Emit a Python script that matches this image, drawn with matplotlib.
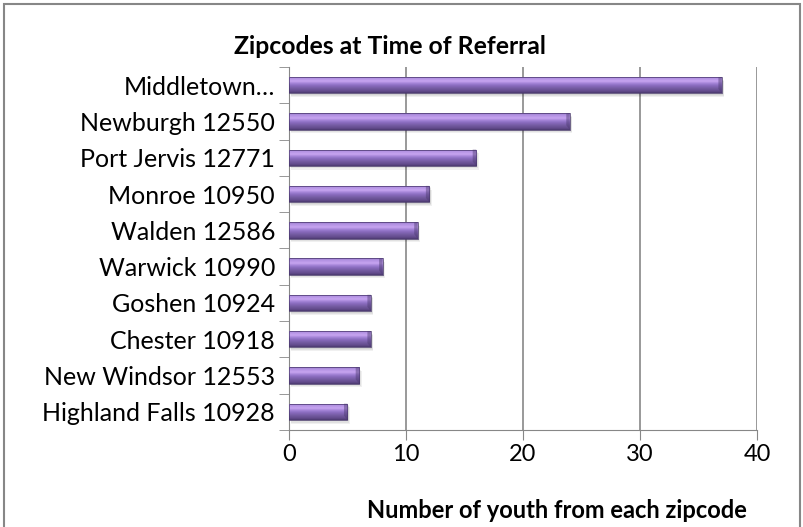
import numpy as np
import matplotlib.pyplot as plt
from matplotlib.colors import LinearSegmentedColormap
from matplotlib.patches import Rectangle, Polygon

zipcodes = ["Middletown\u2026", "Newburgh 12550", "Port Jervis 12771", "Monroe 10950",
            "Walden 12586", "Warwick 10990", "Goshen 10924", "Chester 10918",
            "New Windsor 12553", "Highland Falls 10928"]
youth = [37, 24, 16, 12, 11, 8, 7, 7, 6, 5]
xticks = [0, 10, 20, 30, 40]

plt.rcParams["font.family"] = ["Lato", "DejaVu Sans"]

fig = plt.figure(figsize=(8.04, 5.27), dpi=100)
ax = fig.add_axes([289 / 804, 1 - 430 / 527, (757 - 289) / 804, (430 - 67) / 527])

# purple bevelled-bar shading, top to bottom
shade = LinearSegmentedColormap.from_list(
    "bar", [(0.0, "#9a7dcc"), (0.12, "#b391e2"), (0.3, "#c7a5f1"), (0.42, "#a585d8"),
            (0.55, "#8b6dc0"), (0.75, "#72599f"), (0.9, "#624b8c"), (1.0, "#4b396f")])
grad = np.linspace(0, 1, 64).reshape(-1, 1)

h = 0.45
cap = 0.3
ypos = np.arange(len(zipcodes))
for y, v in zip(ypos, youth):
    # soft shadow under the bar
    for k, a in enumerate([0.06, 0.06, 0.06]):
        ax.add_patch(Rectangle((0.1 + 0.05 * k, y - h / 2 + 0.04 + 0.03 * k), v, h,
                               color="#000000", alpha=a, lw=0, zorder=2))
    bar = ax.barh(y, v, height=h, color="none", edgecolor="#46356a",
                  lw=0.5, zorder=4)[0]
    im = ax.imshow(grad, cmap=shade, extent=(0, v, y + h / 2, y - h / 2),
                   aspect="auto", zorder=3, interpolation="bilinear")
    im.set_clip_path(bar)
    # bevelled end cap
    ax.add_patch(Polygon([(v - cap, y - h / 2), (v, y - h / 2), (v, y + h / 2),
                          (v - cap, y + h / 2 - 0.12), (v - cap, y - h / 2 + 0.1)],
                         closed=True, color="#4b396f", alpha=0.45, lw=0, zorder=3.5))

ax.set_xlim(0, 40)
ax.set_ylim(len(zipcodes) - 0.5, -0.5)
ax.set_xticks(xticks)
ax.set_yticks(ypos)
ax.set_yticklabels(zipcodes)
ax.set_yticks(np.arange(len(zipcodes) + 1) - 0.5, minor=True)
ax.tick_params(axis="y", which="major", length=0, pad=10, labelsize=18)
ax.tick_params(axis="y", which="minor", length=7, color="#878787")
ax.tick_params(axis="x", length=7, color="#878787", pad=3, labelsize=17)
ax.grid(axis="x", color="#878787", lw=1.2, zorder=0)
for s in ["top", "right"]:
    ax.spines[s].set_visible(False)
ax.spines["left"].set_color("#878787")
ax.spines["bottom"].set_color("#878787")
ax.set_xlabel("Number of youth from each zipcode", fontsize=17, fontweight="bold",
              labelpad=30)
ax.xaxis.set_label_coords((557 - 289) / 468, -(510 - 430) / 363, transform=ax.transAxes)
ax.xaxis.label.set_va("center")
fig.text(390 / 804, 1 - 47 / 527, "Zipcodes at Time of Referral", ha="center",
         va="center", fontsize=17.8, fontweight="bold")

fig.patches.append(Rectangle((4 / 804, -0.01), 796 / 804, 1 - 4 / 527 + 0.01,
                             transform=fig.transFigure, fill=False,
                             edgecolor="#878787", lw=1.5))

fig.savefig("out.png", dpi=100)
